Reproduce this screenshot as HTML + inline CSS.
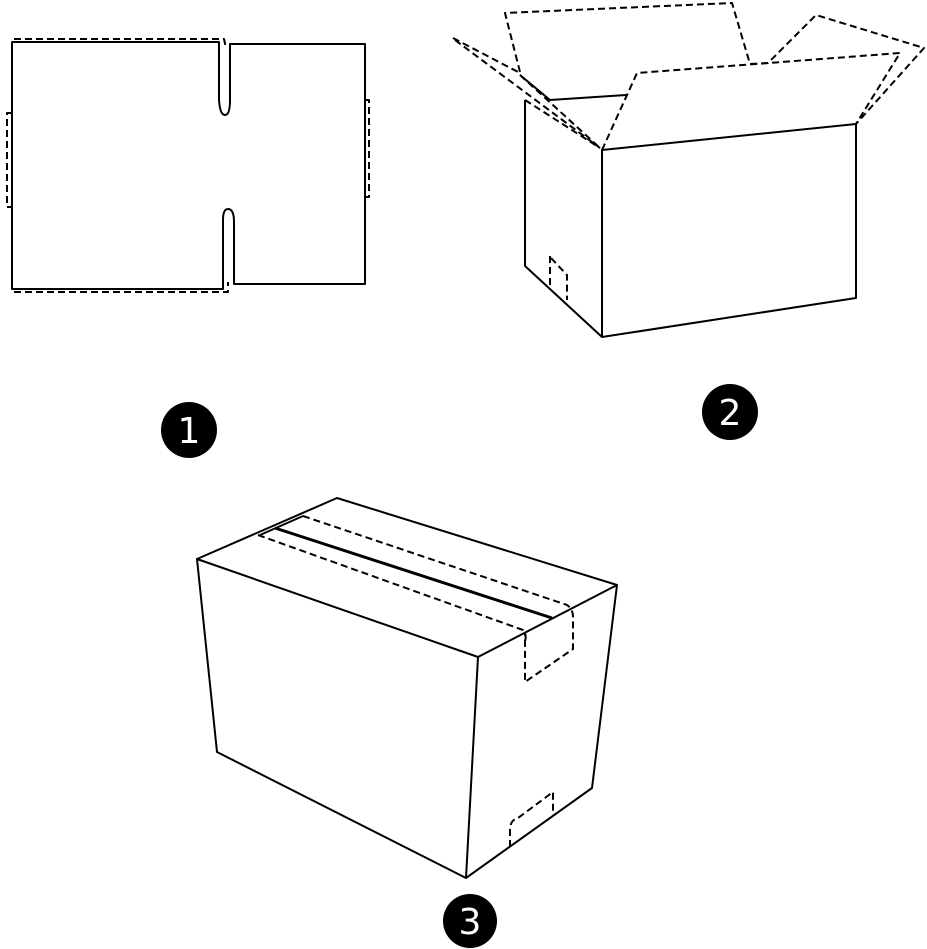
<!DOCTYPE html>
<html><head><meta charset="utf-8"><style>
html,body{margin:0;padding:0;background:#fff;}
svg{display:block;}
text{font-family:"DejaVu Sans","Liberation Sans",sans-serif;fill:#fff;font-weight:normal;}
</style></head><body>
<svg width="927" height="949" viewBox="0 0 927 949" xmlns="http://www.w3.org/2000/svg">
<g fill="none" stroke="#000" stroke-width="2" stroke-linejoin="round">
<!-- Figure 1 -->
<path d="M219,42 L12,42 L12,289 L223,289 L223,220 Q223,209 228,209 Q234,209 234,222 L234,284 L365,284 L365,44 L230,44 L230,100 Q230,115 225,115 Q220,115 219,100 Z"/>
<g stroke-dasharray="7,4">
<path d="M14,39 L224,39 L226,48"/>
<path d="M14,292 L228,292 L228,282"/>
<path d="M12,113 L7,113 L7,207 L12,207"/>
<path d="M365,100 L369,100 L369,197 L365,197"/>
</g>
<!-- Figure 2 -->
<path d="M602,150 L856,124 L856,298 L602,337 Z"/>
<path d="M602,150 L602,337"/>
<path d="M525,100 L525,266 L602,337"/>
<path d="M550,100 L626,95"/>
<path d="M520,75 L550,100"/>
<g stroke-dasharray="7,4">
<path d="M453,38 L520,73"/>
<path d="M455,40 L600,148"/>
<path d="M520,75 L600,148"/>
<path d="M525,100 L600,148"/>
<path d="M520,72 L505,13 L732,3 L750,64 L768,63 L816,15 L924,48 L856,124"/>
<path d="M602,150 L637,73 L900,53 L856,124"/>
<path d="M550,256 L550,287"/>
<path d="M551,258 L567,275 L567,300"/>
</g>
<!-- Figure 3 -->
<path d="M197,559 L337,498 L617,585 L478,657 Z"/>
<path d="M197,559 L217,752 L466,878 L478,657"/>
<path d="M466,878 L592,788 L617,585"/>
<path d="M275,528 L552,618" stroke-width="3"/>
<path d="M260,535 L303,516"/>
<g stroke-dasharray="7,4">
<path d="M303,516 L567,605 Q573,609 573,617 L573,649 L525,682 L525,633"/>
<path d="M258,535 L523,630 Q527,634 525,642"/>
<path d="M510,847 L510,830 Q510,820 518,818 L553,792 L553,815"/>
</g>
</g>
<!-- Number markers -->
<circle cx="189" cy="430" r="28" fill="#000"/>
<text x="189" y="443" font-size="36" text-anchor="middle">1</text>
<circle cx="730" cy="412" r="28" fill="#000"/>
<text x="730" y="425" font-size="36" text-anchor="middle">2</text>
<circle cx="470" cy="921" r="27" fill="#000"/>
<text x="470" y="934" font-size="36" text-anchor="middle">3</text>
</svg>
</body></html>
